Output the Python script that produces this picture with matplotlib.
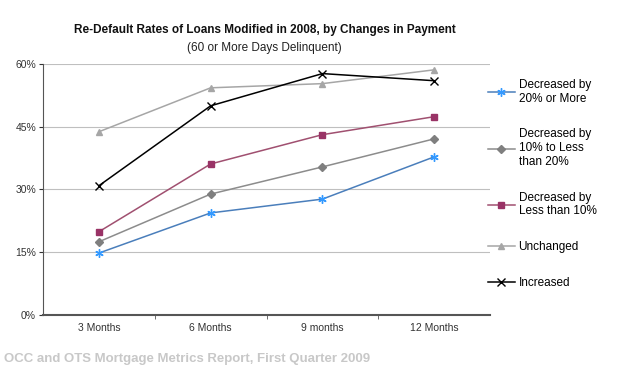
import matplotlib
matplotlib.use('Agg')
import matplotlib.pyplot as plt
from matplotlib.ticker import FixedLocator, PercentFormatter

plt.rcParams['font.family'] = ['Liberation Sans', 'DejaVu Sans']

# Data (percent)
periods = ['3 Months', '6 Months', '9 months', '12 Months']
dec_20_more = [14.8, 24.4, 27.7, 37.8]
dec_10_20 = [17.5, 28.9, 35.4, 42.1]
dec_less_10 = [19.9, 36.1, 43.1, 47.4]
unchanged = [43.8, 54.3, 55.3, 58.6]
increased = [30.9, 50.0, 57.7, 56.0]

series = [
    ('Decreased by\n20% or More', dec_20_more, '#4A7EBB', (6, 2, 0), '#3399FF', 6),
    ('Decreased by\n10% to Less\nthan 20%', dec_10_20, '#8C8C8C', 'D', '#7F7F7F', 4),
    ('Decreased by\nLess than 10%', dec_less_10, '#A05070', 's', '#993366', 5),
    ('Unchanged', unchanged, '#A6A6A6', '^', '#A6A6A6', 5),
    ('Increased', increased, '#000000', 'x', '#000000', 6),
]

fig = plt.figure(figsize=(6.27, 3.73), dpi=100)
ax = fig.add_axes([0.0686, 0.1555, 0.713, 0.673])

x = range(len(periods))
for label, vals, lc, mk, mc, ms in series:
    ax.plot(x, vals, color=lc, linewidth=1.1, marker=mk, markersize=ms,
            markerfacecolor=mc, markeredgecolor=mc, markeredgewidth=1.0, label=label)

ax.set_xlim(-0.5, 3.5)
ax.set_ylim(0, 60)
ax.set_yticks([0, 15, 30, 45, 60])
ax.yaxis.set_major_formatter(PercentFormatter(decimals=0))
ax.yaxis.grid(True, color='#BFBFBF', linewidth=0.8)
ax.set_axisbelow(True)

ax.set_xticks(list(x))
ax.set_xticklabels(periods)
ax.xaxis.set_minor_locator(FixedLocator([0.5, 1.5, 2.5]))
ax.tick_params(axis='x', which='major', length=0, labelsize=7.5, pad=6, colors='#333333')
ax.tick_params(axis='x', which='minor', length=3, color='#555555')
ax.tick_params(axis='y', length=3, labelsize=7.5, colors='#333333', pad=2)

for side in ['top', 'right']:
    ax.spines[side].set_visible(False)
ax.spines['left'].set_color('#555555')
ax.spines['bottom'].set_color('#555555')
ax.spines['bottom'].set_linewidth(1.5)

fig.text(0.422, 0.912, 'Re-Default Rates of Loans Modified in 2008, by Changes in Payment',
         ha='center', fontsize=8.5, fontweight='bold', color='#111111')
fig.text(0.422, 0.862, '(60 or More Days Delinquent)', ha='center', fontsize=8.5, color='#222222')

ax.legend(loc='upper left', bbox_to_anchor=(0.995, 0.94), frameon=False, fontsize=8.5,
          handlelength=2.3, handletextpad=0.3, labelspacing=2.0, borderaxespad=0,
          borderpad=0)

fig.text(0.006, 0.03, 'OCC and OTS Mortgage Metrics Report, First Quarter 2009',
         fontsize=9.5, fontweight='bold', color='#C8C8C8')

fig.savefig('out.png', dpi=100)
